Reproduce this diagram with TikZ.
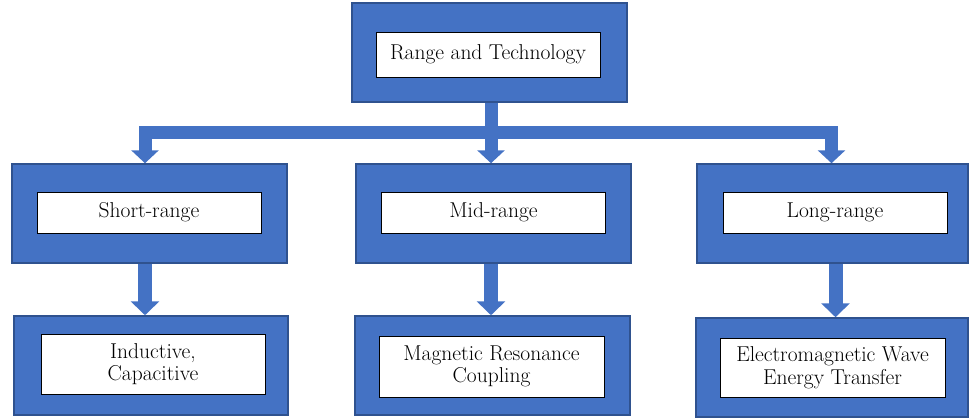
\documentclass[tikz,border=0pt]{standalone}
\usetikzlibrary{arrows.meta}
\definecolor{boxblue}{HTML}{4472C4}
\definecolor{boxedge}{HTML}{2F528F}
\begin{document}
\begin{tikzpicture}[x=1pt,y=-1pt,
  outerbox/.style={draw=boxedge,line width=1.5pt,fill=boxblue,
    minimum width=275pt,minimum height=99pt,inner sep=0pt},
  innerbox/.style={draw=black,line width=1pt,fill=white,
    minimum width=224pt,minimum height=41pt,inner sep=1pt,align=center,
    font=\fontsize{21.5}{22.5}\selectfont},
  conn/.style={draw=boxblue,line width=13pt,line join=miter,line cap=butt,
    -{Triangle[width=27pt,length=13pt]}},
  connlow/.style={conn,line width=14pt,-{Triangle[width=28pt,length=14pt]}}]
\useasboundingbox (0,0) rectangle (969,418);

% top level
\node[outerbox] (topo) at (489.5,52.5) {};
\node[innerbox,minimum height=45pt] (top) at (488,54.5) {Range and Technology};

% range level
\node[outerbox] (mlo) at (149.5,213.5) {};
\node[innerbox] (ml) at (149,212.5) {Short-range};
\node[outerbox] (mmo) at (493.5,213.5) {};
\node[innerbox] (mm) at (493.5,212.5) {Mid-range};
\node[outerbox,minimum width=271pt] (mro) at (832.5,213.5) {};
\node[innerbox] (mr) at (835,212.5) {Long-range};

% technology level
\node[outerbox,minimum width=274pt] (blo) at (151,365.5) {};
\node[innerbox,minimum height=60pt] (bl) at (153,364) {Inductive,\\Capacitive};
\node[outerbox] (bmo) at (492.5,365.5) {};
\node[innerbox,minimum width=225pt,minimum height=61pt] (bm) at (491.5,366.5) {Magnetic Resonance\\Coupling};
\node[outerbox,minimum width=272pt] (bro) at (832,367.5) {};
\node[innerbox,minimum width=225pt,minimum height=59pt] (br) at (832.5,367.5) {Electromagnetic Wave\\Energy Transfer};

% distribution bar
\coordinate (bar) at (0,132);

% top to range level
\draw[conn] ([xshift=1.5pt]topo.south) -- ([xshift=1.5pt]topo.south |- bar) -| ([xshift=-4.5pt]mlo.north);
\draw[conn] ([xshift=1.5pt]topo.south) -- ([xshift=-2.5pt]mmo.north);
\draw[conn] ([xshift=1.5pt]topo.south) -- ([xshift=1.5pt]topo.south |- bar) -| ([xshift=-1pt]mro.north);

% range to technology level
\draw[connlow] ([xshift=-4.5pt]mlo.south) -- ([xshift=-6pt]blo.north);
\draw[connlow] ([xshift=-2.5pt]mmo.south) -- ([xshift=-1.5pt]bmo.north);
\draw[connlow] ([xshift=3pt]mro.south) -- ([xshift=3.5pt]bro.north);
\end{tikzpicture}
\end{document}
